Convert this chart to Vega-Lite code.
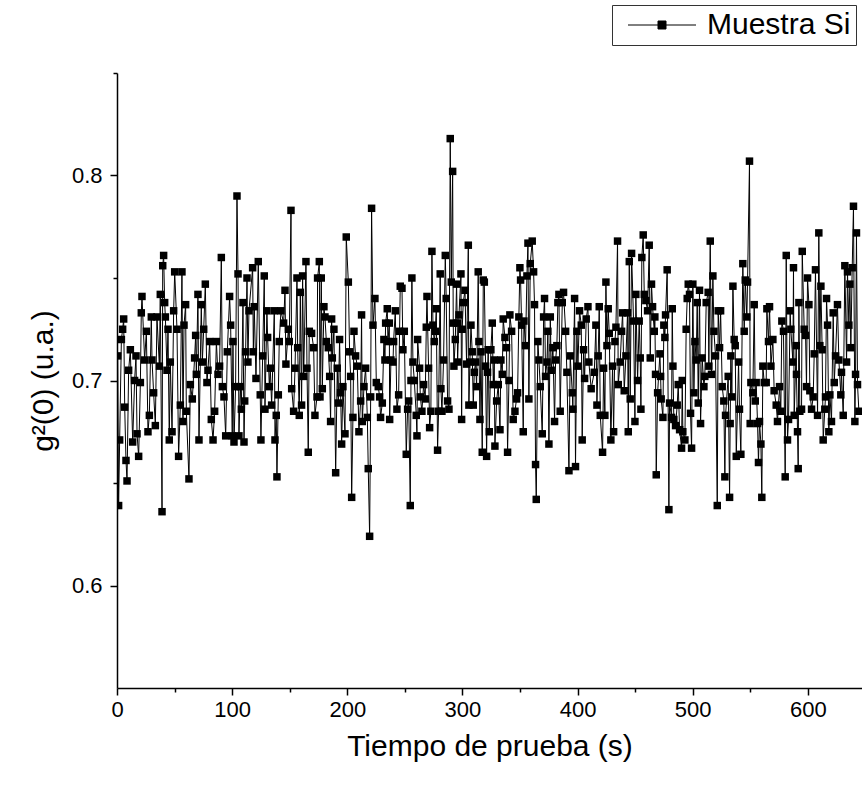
{
"$schema":"https://vega.github.io/schema/vega-lite/v6.json",
"width":745,"height":615,
"autosize":{"type":"none"},
"padding":{"left":117,"top":73,"right":0,"bottom":100},
"background":"white",
"config":{"view":{"stroke":null},"font":"Liberation Sans"},
"data":{"values":[
{"t":0.6,"g":0.712},{"t":1.4,"g":0.639},{"t":2.3,"g":0.671},{"t":3.8,"g":0.720},{"t":4.9,"g":0.725},{"t":5.8,"g":0.730},{"t":6.7,"g":0.687},{"t":7.8,"g":0.661},{"t":8.7,"g":0.651},{"t":10.1,"g":0.705},{"t":11.6,"g":0.715},{"t":13.6,"g":0.670},{"t":15.3,"g":0.700},{"t":16.5,"g":0.712},{"t":17.4,"g":0.674},{"t":18.8,"g":0.663},{"t":20.3,"g":0.699},{"t":21.1,"g":0.733},{"t":21.7,"g":0.741},{"t":24.0,"g":0.710},{"t":25.5,"g":0.724},{"t":26.9,"g":0.675},{"t":28.1,"g":0.683},{"t":29.8,"g":0.731},{"t":30.4,"g":0.710},{"t":31.8,"g":0.694},{"t":33.3,"g":0.678},{"t":34.7,"g":0.731},{"t":36.8,"g":0.707},{"t":37.6,"g":0.742},{"t":39.1,"g":0.636},{"t":39.7,"g":0.756},{"t":40.5,"g":0.761},{"t":41.4,"g":0.738},{"t":42.0,"g":0.731},{"t":43.4,"g":0.705},{"t":44.3,"g":0.725},{"t":45.4,"g":0.671},{"t":46.3,"g":0.709},{"t":47.8,"g":0.675},{"t":49.2,"g":0.734},{"t":50.1,"g":0.753},{"t":52.1,"g":0.725},{"t":53.5,"g":0.663},{"t":55.0,"g":0.688},{"t":56.4,"g":0.753},
{"t":57.3,"g":0.680},{"t":58.2,"g":0.727},{"t":59.6,"g":0.737},{"t":60.2,"g":0.685},{"t":62.5,"g":0.652},{"t":63.7,"g":0.698},{"t":65.4,"g":0.691},{"t":67.4,"g":0.711},{"t":68.3,"g":0.722},{"t":68.9,"g":0.703},{"t":70.3,"g":0.742},{"t":71.2,"g":0.671},{"t":73.2,"g":0.737},{"t":74.1,"g":0.709},{"t":75.3,"g":0.725},{"t":76.7,"g":0.747},{"t":78.1,"g":0.699},{"t":79.0,"g":0.705},{"t":80.5,"g":0.719},{"t":81.9,"g":0.681},{"t":83.4,"g":0.671},{"t":84.8,"g":0.685},{"t":86.3,"g":0.719},{"t":87.7,"g":0.703},{"t":89.1,"g":0.707},{"t":90.6,"g":0.760},{"t":91.5,"g":0.697},{"t":92.9,"g":0.692},{"t":94.4,"g":0.673},{"t":95.8,"g":0.714},{"t":97.8,"g":0.741},{"t":98.7,"g":0.727},{"t":100.1,"g":0.673},{"t":100.7,"g":0.719},{"t":101.6,"g":0.670},{"t":103.0,"g":0.697},{"t":104.2,"g":0.790},{"t":105.1,"g":0.752},{"t":105.9,"g":0.673},{"t":107.1,"g":0.697},{"t":108.0,"g":0.686},{"t":109.4,"g":0.738},{"t":110.3,"g":0.670},{"t":110.9,"g":0.690},{"t":111.7,"g":0.714},{"t":112.9,"g":0.750},{"t":113.7,"g":0.709},{"t":114.6,"g":0.734},
{"t":117.8,"g":0.755},{"t":118.4,"g":0.714},{"t":119.2,"g":0.736},{"t":120.7,"g":0.701},{"t":122.7,"g":0.758},{"t":124.4,"g":0.693},{"t":125.0,"g":0.671},{"t":126.5,"g":0.712},{"t":127.9,"g":0.751},{"t":128.5,"g":0.686},{"t":130.2,"g":0.734},{"t":130.8,"g":0.721},{"t":132.3,"g":0.697},{"t":133.1,"g":0.706},{"t":134.3,"g":0.688},{"t":136.6,"g":0.734},{"t":137.2,"g":0.671},{"t":138.3,"g":0.683},{"t":138.9,"g":0.653},{"t":140.1,"g":0.693},{"t":140.9,"g":0.719},{"t":142.4,"g":0.734},{"t":144.7,"g":0.728},{"t":145.9,"g":0.744},{"t":146.7,"g":0.708},{"t":148.8,"g":0.725},{"t":149.6,"g":0.719},{"t":151.1,"g":0.783},{"t":151.7,"g":0.696},{"t":153.4,"g":0.685},{"t":154.6,"g":0.706},{"t":156.3,"g":0.750},{"t":156.9,"g":0.716},{"t":158.3,"g":0.683},{"t":159.2,"g":0.743},{"t":160.3,"g":0.688},{"t":161.2,"g":0.751},{"t":162.1,"g":0.702},{"t":164.1,"g":0.758},{"t":165.0,"g":0.706},{"t":166.1,"g":0.665},{"t":167.0,"g":0.724},{"t":169.0,"g":0.723},{"t":170.8,"g":0.716},{"t":171.9,"g":0.683},{"t":173.7,"g":0.692},{"t":174.2,"g":0.750},{"t":175.7,"g":0.758},
{"t":176.3,"g":0.692},{"t":177.4,"g":0.750},{"t":178.3,"g":0.696},{"t":179.7,"g":0.736},{"t":180.6,"g":0.731},{"t":181.8,"g":0.719},{"t":183.5,"g":0.716},{"t":184.7,"g":0.702},{"t":185.5,"g":0.680},{"t":186.4,"g":0.730},{"t":187.0,"g":0.711},{"t":188.4,"g":0.725},{"t":189.9,"g":0.655},{"t":191.3,"g":0.706},{"t":192.2,"g":0.689},{"t":193.3,"g":0.720},{"t":194.2,"g":0.694},{"t":195.1,"g":0.669},{"t":196.2,"g":0.697},{"t":198.0,"g":0.674},{"t":199.1,"g":0.770},{"t":200.9,"g":0.748},{"t":202.0,"g":0.714},{"t":202.9,"g":0.702},{"t":203.8,"g":0.643},{"t":204.9,"g":0.682},{"t":205.8,"g":0.724},{"t":207.2,"g":0.712},{"t":208.7,"g":0.707},{"t":210.1,"g":0.675},{"t":211.6,"g":0.690},{"t":212.4,"g":0.732},{"t":213.0,"g":0.680},{"t":214.5,"g":0.697},{"t":215.9,"g":0.706},{"t":217.4,"g":0.682},{"t":218.2,"g":0.657},{"t":219.4,"g":0.624},{"t":220.3,"g":0.692},{"t":221.1,"g":0.784},{"t":222.3,"g":0.727},{"t":224.0,"g":0.740},{"t":225.2,"g":0.699},{"t":226.9,"g":0.697},{"t":228.1,"g":0.692},{"t":228.9,"g":0.682},{"t":230.4,"g":0.689},{"t":231.8,"g":0.720},{"t":232.7,"g":0.710},{"t":233.3,"g":0.728},{"t":234.7,"g":0.735},
{"t":235.3,"g":0.719},{"t":236.5,"g":0.728},{"t":236.8,"g":0.681},{"t":237.9,"g":0.710},{"t":239.7,"g":0.709},{"t":240.2,"g":0.719},{"t":241.7,"g":0.734},{"t":243.1,"g":0.686},{"t":244.6,"g":0.693},{"t":245.4,"g":0.724},{"t":246.0,"g":0.746},{"t":247.5,"g":0.745},{"t":248.3,"g":0.715},{"t":249.5,"g":0.724},{"t":251.2,"g":0.664},{"t":252.4,"g":0.686},{"t":253.3,"g":0.690},{"t":254.7,"g":0.639},{"t":255.3,"g":0.700},{"t":256.1,"g":0.750},{"t":257.0,"g":0.709},{"t":258.2,"g":0.700},{"t":259.9,"g":0.683},{"t":260.5,"g":0.673},{"t":261.1,"g":0.720},{"t":262.8,"g":0.706},{"t":263.4,"g":0.692},{"t":264.8,"g":0.685},{"t":266.3,"g":0.698},{"t":267.7,"g":0.691},{"t":268.6,"g":0.726},{"t":269.2,"g":0.741},{"t":270.6,"g":0.706},{"t":271.5,"g":0.677},{"t":272.6,"g":0.685},{"t":273.5,"g":0.763},{"t":274.4,"g":0.727},{"t":275.5,"g":0.719},{"t":276.4,"g":0.724},{"t":277.3,"g":0.735},{"t":278.4,"g":0.666},{"t":279.3,"g":0.685},{"t":280.7,"g":0.752},{"t":281.3,"g":0.696},{"t":282.2,"g":0.685},{"t":283.6,"g":0.710},{"t":285.1,"g":0.761},{"t":285.9,"g":0.740},{"t":287.1,"g":0.690},{"t":288.3,"g":0.686},{"t":289.4,"g":0.818},{"t":290.3,"g":0.748},{"t":291.5,"g":0.802},{"t":292.0,"g":0.728},{"t":292.6,"g":0.707},{"t":293.8,"g":0.720},
{"t":294.9,"g":0.747},{"t":295.5,"g":0.728},{"t":295.8,"g":0.709},{"t":297.0,"g":0.732},{"t":298.7,"g":0.752},{"t":299.3,"g":0.681},{"t":299.8,"g":0.725},{"t":300.7,"g":0.738},{"t":302.2,"g":0.744},{"t":303.6,"g":0.708},{"t":305.1,"g":0.766},{"t":305.6,"g":0.688},{"t":306.5,"g":0.709},{"t":307.4,"g":0.727},{"t":308.5,"g":0.714},{"t":309.4,"g":0.688},{"t":310.3,"g":0.704},{"t":311.4,"g":0.709},{"t":312.3,"g":0.697},{"t":313.7,"g":0.753},{"t":314.3,"g":0.719},{"t":315.2,"g":0.681},{"t":316.1,"g":0.714},{"t":317.2,"g":0.665},{"t":318.1,"g":0.749},{"t":319.0,"g":0.748},{"t":320.1,"g":0.707},{"t":321.0,"g":0.663},{"t":321.8,"g":0.704},{"t":322.4,"g":0.715},{"t":323.3,"g":0.675},{"t":324.7,"g":0.715},{"t":325.9,"g":0.728},{"t":326.8,"g":0.698},{"t":327.6,"g":0.710},{"t":328.2,"g":0.668},{"t":329.7,"g":0.690},{"t":331.1,"g":0.698},{"t":332.6,"g":0.676},{"t":333.4,"g":0.710},{"t":334.6,"g":0.703},{"t":335.4,"g":0.730},{"t":336.9,"g":0.721},{"t":338.3,"g":0.716},{"t":339.2,"g":0.665},{"t":340.4,"g":0.700},{"t":341.2,"g":0.732},{"t":342.7,"g":0.724},{"t":344.1,"g":0.681},{"t":345.6,"g":0.685},{"t":347.0,"g":0.691},{"t":347.9,"g":0.694},{"t":349.0,"g":0.731},{"t":349.9,"g":0.755},{"t":350.5,"g":0.749},{"t":351.4,"g":0.727},{"t":352.8,"g":0.675},
{"t":353.4,"g":0.729},{"t":354.8,"g":0.717},{"t":356.0,"g":0.751},{"t":356.9,"g":0.767},{"t":357.7,"g":0.691},{"t":358.9,"g":0.757},{"t":360.6,"g":0.768},{"t":361.8,"g":0.753},{"t":362.6,"g":0.737},{"t":363.5,"g":0.659},{"t":364.1,"g":0.642},{"t":365.5,"g":0.719},{"t":366.4,"g":0.710},{"t":367.6,"g":0.697},{"t":369.3,"g":0.674},{"t":370.5,"g":0.731},{"t":371.3,"g":0.740},{"t":372.2,"g":0.702},{"t":373.4,"g":0.709},{"t":374.2,"g":0.724},{"t":375.1,"g":0.669},{"t":376.3,"g":0.731},{"t":377.1,"g":0.705},{"t":378.6,"g":0.716},{"t":380.0,"g":0.680},{"t":380.9,"g":0.710},{"t":382.0,"g":0.717},{"t":382.9,"g":0.738},{"t":383.8,"g":0.742},{"t":384.9,"g":0.685},{"t":386.7,"g":0.738},{"t":387.8,"g":0.743},{"t":389.6,"g":0.724},{"t":390.7,"g":0.704},{"t":392.5,"g":0.656},{"t":393.6,"g":0.712},{"t":395.4,"g":0.694},{"t":395.9,"g":0.686},{"t":397.4,"g":0.740},{"t":398.2,"g":0.658},{"t":399.4,"g":0.724},{"t":400.3,"g":0.707},{"t":401.7,"g":0.734},{"t":403.2,"g":0.727},{"t":404.0,"g":0.671},{"t":405.2,"g":0.715},{"t":406.1,"g":0.701},{"t":407.5,"g":0.730},{"t":409.0,"g":0.736},{"t":409.8,"g":0.709},{"t":411.8,"g":0.696},
{"t":414.5,"g":0.704},{"t":415.9,"g":0.727},{"t":416.8,"g":0.688},{"t":417.9,"g":0.712},{"t":418.8,"g":0.736},{"t":419.7,"g":0.683},{"t":421.7,"g":0.665},{"t":422.6,"g":0.706},{"t":423.7,"g":0.683},{"t":424.6,"g":0.748},{"t":425.5,"g":0.717},{"t":426.6,"g":0.735},{"t":427.5,"g":0.723},{"t":428.9,"g":0.671},{"t":430.4,"g":0.707},{"t":431.3,"g":0.675},{"t":432.4,"g":0.719},{"t":433.3,"g":0.726},{"t":434.7,"g":0.768},{"t":435.3,"g":0.698},{"t":437.0,"g":0.709},{"t":438.2,"g":0.724},{"t":439.1,"g":0.733},{"t":440.5,"g":0.695},{"t":442.0,"g":0.712},{"t":443.4,"g":0.733},{"t":444.0,"g":0.675},{"t":444.9,"g":0.758},{"t":445.7,"g":0.691},{"t":446.9,"g":0.762},{"t":448.6,"g":0.729},{"t":449.8,"g":0.680},{"t":450.6,"g":0.742},{"t":452.1,"g":0.700},{"t":453.5,"g":0.729},{"t":454.4,"g":0.711},{"t":455.0,"g":0.686},{"t":455.8,"g":0.760},{"t":457.0,"g":0.771},{"t":457.9,"g":0.742},{"t":459.3,"g":0.739},{"t":460.8,"g":0.734},{"t":462.2,"g":0.766},{"t":463.1,"g":0.711},{"t":464.2,"g":0.747},{"t":465.1,"g":0.736},{"t":466.6,"g":0.724},{"t":467.1,"g":0.731},{"t":467.7,"g":0.703},{"t":468.3,"g":0.654},{"t":469.5,"g":0.694},
{"t":471.5,"g":0.713},{"t":472.1,"g":0.702},{"t":472.6,"g":0.691},{"t":474.1,"g":0.682},{"t":474.9,"g":0.727},{"t":475.8,"g":0.721},{"t":476.4,"g":0.732},{"t":477.8,"g":0.754},{"t":479.3,"g":0.637},{"t":479.9,"g":0.689},{"t":481.6,"g":0.682},{"t":482.2,"g":0.735},{"t":482.8,"g":0.707},{"t":483.6,"g":0.681},{"t":485.1,"g":0.678},{"t":486.5,"g":0.688},{"t":487.4,"g":0.698},{"t":488.6,"g":0.676},{"t":490.3,"g":0.667},{"t":490.9,"g":0.700},{"t":491.4,"g":0.675},{"t":493.2,"g":0.671},{"t":494.3,"g":0.725},{"t":495.2,"g":0.740},{"t":496.1,"g":0.747},{"t":497.2,"g":0.742},{"t":498.1,"g":0.684},{"t":499.0,"g":0.667},{"t":500.1,"g":0.747},{"t":501.0,"g":0.694},{"t":501.9,"g":0.719},{"t":503.0,"g":0.710},{"t":503.9,"g":0.738},{"t":504.8,"g":0.689},{"t":505.9,"g":0.744},{"t":506.8,"g":0.679},{"t":508.2,"g":0.711},{"t":509.7,"g":0.697},{"t":510.5,"g":0.702},{"t":511.7,"g":0.738},{"t":513.4,"g":0.743},{"t":514.0,"g":0.707},{"t":515.2,"g":0.768},{"t":516.3,"g":0.703},{"t":517.5,"g":0.751},{"t":518.4,"g":0.724},{"t":519.8,"g":0.712},{"t":521.3,"g":0.639},{"t":522.1,"g":0.734},{"t":523.3,"g":0.716},{"t":524.2,"g":0.734},{"t":525.6,"g":0.697},{"t":527.0,"g":0.690},{"t":527.9,"g":0.653},{"t":528.5,"g":0.683},
{"t":530.8,"g":0.702},{"t":532.0,"g":0.643},{"t":532.5,"g":0.679},{"t":533.1,"g":0.712},{"t":534.0,"g":0.692},{"t":534.9,"g":0.746},{"t":536.0,"g":0.720},{"t":536.9,"g":0.717},{"t":537.8,"g":0.663},{"t":539.8,"g":0.709},{"t":540.6,"g":0.686},{"t":541.8,"g":0.664},{"t":543.5,"g":0.757},{"t":544.7,"g":0.724},{"t":545.6,"g":0.749},{"t":547.0,"g":0.731},{"t":547.6,"g":0.748},{"t":549.3,"g":0.807},{"t":549.9,"g":0.679},{"t":550.5,"g":0.699},{"t":552.2,"g":0.694},{"t":553.4,"g":0.737},{"t":554.3,"g":0.690},{"t":555.1,"g":0.699},{"t":556.3,"g":0.679},{"t":557.1,"g":0.660},{"t":558.0,"g":0.680},{"t":559.2,"g":0.669},{"t":560.0,"g":0.643},{"t":560.9,"g":0.707},{"t":562.1,"g":0.699},{"t":563.8,"g":0.699},{"t":564.4,"g":0.735},{"t":565.8,"g":0.719},{"t":566.7,"g":0.736},{"t":567.9,"g":0.707},{"t":569.6,"g":0.720},{"t":570.7,"g":0.695},{"t":572.5,"g":0.688},{"t":573.6,"g":0.680},{"t":575.4,"g":0.697},{"t":576.5,"g":0.685},{"t":577.4,"g":0.729},{"t":578.8,"g":0.724},{"t":580.3,"g":0.653},{"t":581.2,"g":0.761},{"t":582.3,"g":0.671},{"t":583.2,"g":0.681},{"t":584.6,"g":0.734},{"t":585.2,"g":0.725},{"t":587.0,"g":0.709},{"t":587.5,"g":0.755},{"t":588.1,"g":0.683},
{"t":589.9,"g":0.717},{"t":590.1,"g":0.703},{"t":591.0,"g":0.675},{"t":591.6,"g":0.657},{"t":592.2,"g":0.738},{"t":593.0,"g":0.685},{"t":594.5,"g":0.686},{"t":595.1,"g":0.763},{"t":596.8,"g":0.725},{"t":598.0,"g":0.722},{"t":598.8,"g":0.697},{"t":599.7,"g":0.750},{"t":600.9,"g":0.737},{"t":601.7,"g":0.695},{"t":603.2,"g":0.686},{"t":604.6,"g":0.692},{"t":605.5,"g":0.713},{"t":606.6,"g":0.754},{"t":608.4,"g":0.683},{"t":609.5,"g":0.772},{"t":610.4,"g":0.717},{"t":611.3,"g":0.746},{"t":612.4,"g":0.715},{"t":613.3,"g":0.671},{"t":614.7,"g":0.686},{"t":615.3,"g":0.692},{"t":616.2,"g":0.740},{"t":617.1,"g":0.727},{"t":618.2,"g":0.675},{"t":619.1,"g":0.693},{"t":620.5,"g":0.680},{"t":622.0,"g":0.733},{"t":622.9,"g":0.699},{"t":624.0,"g":0.712},{"t":625.7,"g":0.737},{"t":626.9,"g":0.710},{"t":628.6,"g":0.693},{"t":629.2,"g":0.704},{"t":630.7,"g":0.683},{"t":632.1,"g":0.756},{"t":633.6,"g":0.709},{"t":634.4,"g":0.753},{"t":635.6,"g":0.727},{"t":636.5,"g":0.747},{"t":637.3,"g":0.716},{"t":638.5,"g":0.755},{"t":639.6,"g":0.785},{"t":640.8,"g":0.680},{"t":641.4,"g":0.703},{"t":642.2,"g":0.772},{"t":643.1,"g":0.698},{"t":644.3,"g":0.685}
]},
"layer":[
{"mark":{"type":"line","color":"black","strokeWidth":1,"clip":true},
 "encoding":{
  "x":{"field":"t","type":"quantitative","scale":{"domain":[0,647],"nice":false,"zero":false},
   "axis":{"orient":"bottom","values":[0,100,200,300,400,500,600],"format":"d","title":"Tiempo de prueba (s)","titleFontSize":30,"titleFont":"Liberation Sans","titleFontWeight":"normal","titleColor":"black","titlePadding":11,"labelFontSize":22,"labelColor":"black","labelFont":"Liberation Sans","labelPadding":4,"tickSize":7,"tickWidth":1.5,"tickColor":"black","domainColor":"black","domainWidth":1.5,"grid":false,"labelFlush":false}},
  "y":{"field":"g","type":"quantitative","scale":{"domain":[0.55,0.85],"nice":false,"zero":false},
   "axis":{"orient":"left","values":[0.6,0.7,0.8],"format":".1f","title":"g²(0) (u.a.)","titleFontSize":30,"titleFont":"Liberation Sans","titleFontWeight":"normal","titleColor":"black","titlePadding":13,"labelFontSize":22,"labelColor":"black","labelFont":"Liberation Sans","labelPadding":8,"tickSize":7,"tickWidth":1.5,"tickColor":"black","domainColor":"black","domainWidth":1.5,"grid":false,"labelFlush":false}}
 }},
{"mark":{"type":"point","shape":"square","filled":true,"size":56,"opacity":1,"clip":true},
 "encoding":{
  "x":{"field":"t","type":"quantitative",
   "axis":{"orient":"bottom","values":[50,150,250,350,450,550],"labels":false,"title":null,"domain":false,"tickSize":4,"tickWidth":1.5,"tickColor":"black","grid":false}},
  "y":{"field":"g","type":"quantitative",
   "axis":{"orient":"left","values":[0.65,0.75,0.85],"labels":false,"title":null,"domain":false,"tickSize":4,"tickWidth":1.5,"tickColor":"black","grid":false}},
  "color":{"datum":"Muestra Si","scale":{"range":["black"]},
   "legend":{"orient":"none","legendX":495,"legendY":-68,"title":null,"symbolType":"M-0.4,0L6.4,0M2.6,-0.4L3.4,-0.4L3.4,0.4L2.6,0.4Z","symbolSize":400,"symbolStrokeWidth":1,"symbolFillColor":"black","symbolStrokeColor":"black","labelFontSize":30,"labelFont":"Liberation Sans","labelColor":"black","labelOffset":60,"padding":5,"strokeColor":"#333333"}}
 }}
],
"resolve":{"axis":{"x":"independent","y":"independent"}}
}
